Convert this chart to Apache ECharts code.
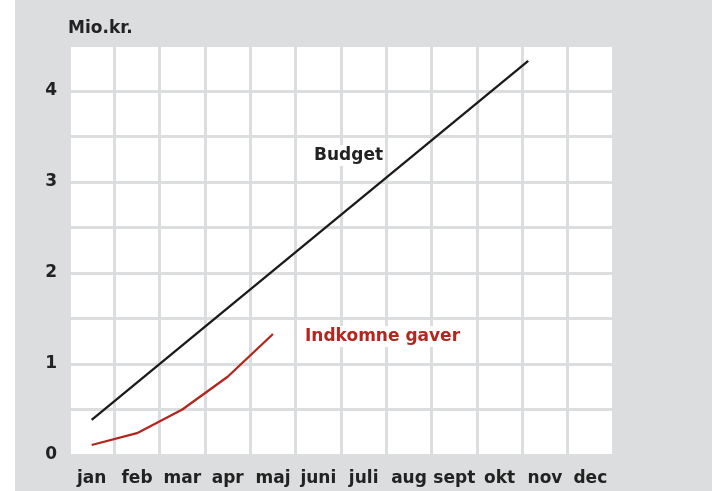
<!DOCTYPE html>
<html>
<head>
<meta charset="utf-8">
<script src="https://cdn.jsdelivr.net/npm/echarts@6/dist/echarts.min.js"></script>
<style>html,body{margin:0;padding:0;background:#dcdddf;}#c{width:712px;height:491px;}</style>
</head>
<body>
<div id="c"></div>
<script>
const months = ['jan','feb','mar','apr','maj','juni','juli','aug','sept','okt','nov','dec'];
const gaver = [0.11, 0.24, 0.50, 0.86, 1.33];
const budgetX = [0, 9.63];
const budgetY = [0.385, 4.33];
const yTicks = [0, 1, 2, 3, 4];

const FONT = 'DejaVu Sans';
const chart = echarts.init(document.getElementById('c'));
chart.setOption({
  backgroundColor: '#dcdddf',
  animation: false,
  grid: { left: 69, right: 99, top: 45.5, bottom: 36, show: true, backgroundColor: '#ffffff', borderWidth: 0 },
  xAxis: [
    { type: 'category', data: months, boundaryGap: true,
      axisLine: { show: false }, axisTick: { show: false },
      axisLabel: { color: '#222', fontFamily: FONT, fontWeight: 'bold', fontSize: 17, margin: 15, interval: 0 },
      splitLine: { show: true, interval: 0, lineStyle: { color: '#dcdddf', width: 3 } } },
    { type: 'value', min: -0.5, max: 11.5, show: false }
  ],
  yAxis: { type: 'value', min: 0, max: 4.5, interval: 0.5,
    axisLine: { show: false }, axisTick: { show: false },
    axisLabel: { color: '#222', fontFamily: FONT, fontWeight: 'bold', fontSize: 17, margin: 12,
      formatter: v => yTicks.includes(v) ? String(v) : '' },
    splitLine: { lineStyle: { color: '#dcdddf', width: 3 } } },
  series: [
    { type: 'line', xAxisIndex: 1, data: budgetX.map((x, i) => [x, budgetY[i]]),
      symbol: 'none', z: 5, lineStyle: { color: '#1a1a1a', width: 2.3 } },
    { type: 'line', xAxisIndex: 0, data: gaver,
      symbol: 'none', z: 5, lineStyle: { color: '#b3261e', width: 2.3 } }
  ],
  graphic: [
    { type: 'rect', left: 0, top: 0, z: 0, shape: { width: 15, height: 491 }, style: { fill: '#ffffff' } },
    { type: 'text', left: 68, top: 20, z: 100, style: { text: 'Mio.kr.', fill: '#222', font: 'bold 17px "DejaVu Sans"' } },
    { type: 'text', left: 312, top: 145, z: 100, style: { text: 'Budget', fill: '#222', font: 'bold 17px "DejaVu Sans"', backgroundColor: '#ffffff', padding: [2, 2, 2, 2] } },
    { type: 'text', left: 303, top: 326, z: 100, style: { text: 'Indkomne gaver', fill: '#b3261e', font: 'bold 17px "DejaVu Sans"', backgroundColor: '#ffffff', padding: [2, 2, 2, 2] } }
  ]
});
</script>
</body>
</html>
